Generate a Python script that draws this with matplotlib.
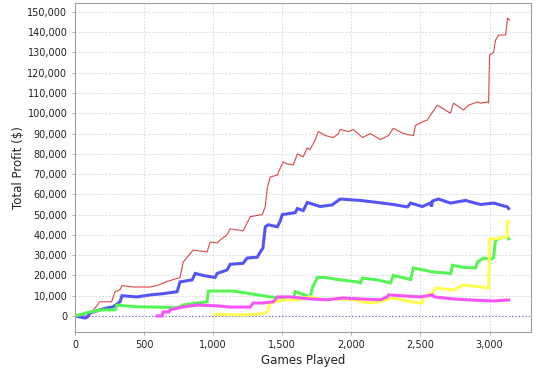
import numpy as np
import matplotlib.pyplot as plt
from matplotlib.ticker import FuncFormatter, MultipleLocator

# games played / total profit (in $1000) for each player
red_games = [0, 95, 145, 180, 265, 290, 326, 340, 420, 543, 594, 667, 760, 783, 855, 956, 978,
             1029, 1050, 1100, 1123, 1217, 1232, 1268, 1355, 1377, 1391, 1413, 1464, 1486, 1507,
             1536, 1580, 1609, 1652, 1681, 1700, 1739, 1761, 1812, 1870, 1906, 1920, 1978, 2014,
             2065, 2080, 2138, 2210, 2268, 2304, 2377, 2449, 2464, 2514, 2550, 2587, 2623, 2717,
             2739, 2812, 2848, 2913, 2935, 2985, 2993, 3000, 3029, 3043, 3065, 3116, 3130, 3145]
red_profit = [0, 0, 4, 7, 7, 12, 13, 15, 14.3, 14.3, 15, 17, 19, 26.6, 32.5, 31.6, 36.5,
              36, 37.5, 40, 43, 42, 44, 49, 50, 54, 63, 68.6, 69.5, 73, 76,
              75, 74.5, 80, 78.5, 83, 82, 87, 91, 89, 88, 90, 92, 91, 92,
              89, 88, 90, 87, 89, 92.6, 90, 89, 94, 95.7, 96.7, 100.6, 104, 100,
              105, 101.6, 104, 105.6, 105, 105.6, 105, 128.8, 130, 136, 138.6, 138.6, 147, 146]

blue_games = [0, 72, 90, 109, 180, 232, 275, 326, 340, 449, 543, 638, 739, 760, 848, 870, 927,
              1014, 1029, 1101, 1123, 1217, 1246, 1319, 1341, 1360, 1377, 1399, 1464, 1486,
              1500, 1594, 1609, 1652, 1681, 1775, 1862, 1884, 1920, 2065, 2188, 2304, 2406,
              2428, 2514, 2570, 2580, 2587, 2630, 2717, 2826, 2935, 3029, 3130, 3138]
blue_profit = [0, -1, -0.5, 1.5, 3, 4, 4.5, 7, 10, 9.4, 10.4, 11, 12, 16.8, 17.8, 21, 20,
               19, 21, 22.7, 25.5, 26, 28.6, 29, 31.6, 33.5, 44, 45, 44, 47,
               50, 51, 53, 52, 56, 54, 54.8, 56, 57.7, 57, 56, 55, 53.8,
               55.7, 54, 55.7, 54, 56.7, 57.7, 55.7, 57, 55, 55.7, 53.8, 53]

green_games = [0, 30, 109, 195, 290, 304, 449, 594, 739, 783, 884, 956, 964, 1145, 1268, 1413,
               1580, 1594, 1703, 1717, 1754, 1812, 1899, 2043, 2065, 2080, 2188, 2283, 2304,
               2428, 2449, 2594, 2717, 2732, 2812, 2899, 2913, 2957, 3007, 3029, 3043, 3080,
               3130, 3138]
green_profit = [0, 0.5, 2, 3, 3, 5.4, 4.5, 4.4, 4, 5.4, 6.4, 7, 12.3, 12.3, 11, 9.4,
                8.4, 12, 9.4, 13.8, 19, 19, 18, 16.8, 16.3, 18.7, 17.8, 16.3, 20,
                18, 23.7, 21.7, 21, 25, 24, 23.7, 26.6, 28.6, 28, 28.6, 37.5, 38.5,
                39, 38]

yellow_games = [1014, 1217, 1341, 1391, 1413, 1449, 1520, 1620, 1703, 1797, 1899, 2014, 2116,
                2210, 2304, 2428, 2514, 2522, 2587, 2608, 2739, 2812, 2935, 2993, 3000, 3029,
                3125, 3130, 3138]
yellow_profit = [0.8, 0.5, 1, 2, 6.4, 7, 8, 8, 9.4, 8, 8.4, 8, 6.4,
                 7, 8.9, 7, 6.4, 9.4, 11.3, 13.8, 12.8, 15.3, 14.3, 13.8, 38, 38,
                 39, 46.4, 46.4]

magenta_games = [594, 630, 638, 680, 688, 775, 884, 1029, 1123, 1268, 1290, 1360, 1435, 1464,
                 1558, 1703, 1820, 1942, 2065, 2210, 2260, 2268, 2500, 2587, 2600, 2739, 2862,
                 3029, 3138]
magenta_profit = [0, 0, 2, 2, 3, 4.4, 5.4, 5, 4.4, 4.4, 6.4, 6.4, 7, 9.4,
                  9.4, 8.4, 8, 8.9, 8.4, 8, 9.4, 10.4, 9.4, 10.4, 9.4, 8.4, 7.9,
                  7.4, 7.9]

x_ticks = np.arange(0, 3001, 500)
y_ticks = np.arange(0, 150001, 10000)

fig = plt.figure(figsize=(5.39, 3.72), dpi=100)
ax = fig.add_axes([75 / 539, 1 - 332 / 372, 456 / 539, 329 / 372])

series = [
    (red_games, red_profit, '#d84848', 0.8),
    (blue_games, blue_profit, '#5555f5', 2.2),
    (green_games, green_profit, '#55f555', 2.2),
    (yellow_games, yellow_profit, '#ffff55', 2.2),
    (magenta_games, magenta_profit, '#f555f5', 2.2),
]
ax.axhline(0, color='#5a5ad0', lw=0.8, ls=(0, (1, 2)), zorder=1)
for g, p, c, lw in series:
    ax.plot(g, np.array(p) * 1000, color=c, lw=lw, solid_joinstyle='miter', zorder=2)

ax.set_xlim(0, 3300)
ax.set_ylim(-7900, 154400)
ax.set_xticks(x_ticks)
ax.set_yticks(y_ticks)
fmt = FuncFormatter(lambda v, pos: f'{int(v):,}')
ax.xaxis.set_major_formatter(fmt)
ax.yaxis.set_major_formatter(fmt)
ax.grid(True, color='#d4d4d4', ls=(0, (2, 2)), lw=0.6)
ax.set_axisbelow(True)
for s in ax.spines.values():
    s.set_color('#a0a0a0')
ax.tick_params(colors='#a0a0a0', labelcolor='#222222', labelsize=7, length=2, width=0.6)
ax.set_xlabel('Games Played', fontsize=8.5, color='#222222', labelpad=3)
ax.set_ylabel('Total Profit ($)', fontsize=8.5, color='#222222', labelpad=2)

fig.savefig('out.png', dpi=100)
